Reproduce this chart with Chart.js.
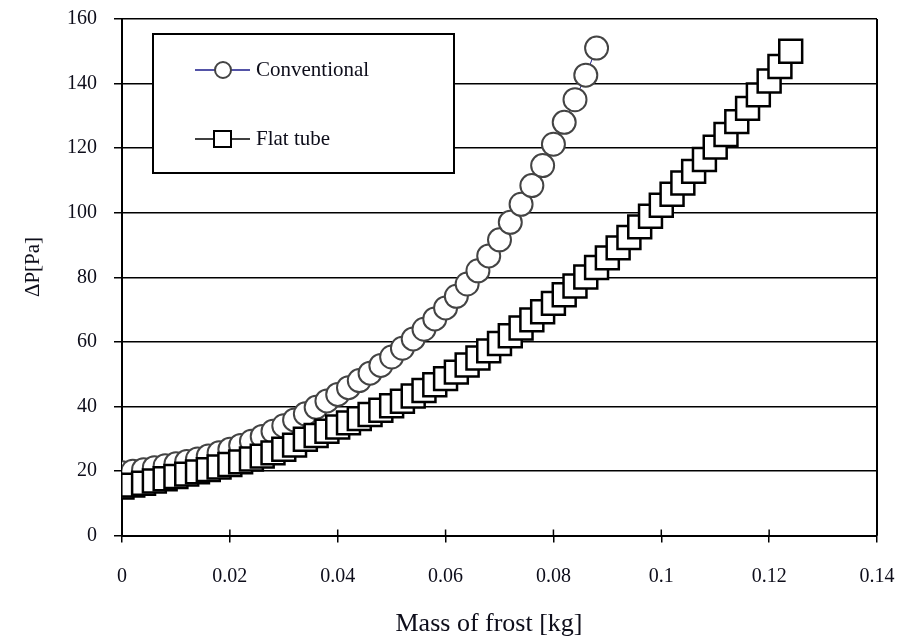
<!DOCTYPE html>
<html>
<head>
<meta charset="utf-8">
<script src="https://cdn.jsdelivr.net/npm/chart.js@4.4.0/dist/chart.umd.min.js"></script>
<style>
  html, body { margin: 0; padding: 0; background: #fff; }
</style>
</head>
<body>
<canvas id="chart" width="907" height="639"></canvas>
<script>
// mass of frost [kg], one sample every 0.002 kg
const massFrost = [0, 0.002, 0.004, 0.006, 0.008, 0.010, 0.012, 0.014, 0.016, 0.018,
  0.020, 0.022, 0.024, 0.026, 0.028, 0.030, 0.032, 0.034, 0.036, 0.038,
  0.040, 0.042, 0.044, 0.046, 0.048, 0.050, 0.052, 0.054, 0.056, 0.058,
  0.060, 0.062, 0.064, 0.066, 0.068, 0.070, 0.072, 0.074, 0.076, 0.078,
  0.080, 0.082, 0.084, 0.086, 0.088, 0.090, 0.092, 0.094, 0.096, 0.098,
  0.100, 0.102, 0.104, 0.106, 0.108, 0.110, 0.112, 0.114, 0.116, 0.118,
  0.120, 0.122, 0.124];

// pressure drop [Pa]
const conventional = [19.4, 19.9, 20.4, 21.0, 21.6, 22.2, 22.9, 23.7, 24.6, 25.6,
  26.7, 27.9, 29.2, 30.7, 32.3, 34.0, 35.8, 37.7, 39.7, 41.7,
  43.7, 45.8, 48.0, 50.3, 52.7, 55.3, 58.0, 60.9, 63.9, 67.1,
  70.5, 74.1, 77.9, 82.0, 86.6, 91.6, 97.0, 102.6, 108.4, 114.6,
  121.2, 128.0, 135.0, 142.6, 151.0];

const flatTube = [15.0, 15.6, 16.2, 16.9, 17.6, 18.3, 19.0, 19.7, 20.4, 21.2,
  22.0, 22.8, 23.7, 24.6, 25.6, 26.7, 28.0, 29.8, 31.0, 32.3,
  33.6, 34.9, 36.2, 37.5, 38.8, 40.2, 41.6, 43.2, 44.9, 46.7,
  48.6, 50.6, 52.8, 55.0, 57.2, 59.5, 61.9, 64.3, 66.8, 69.3,
  71.9, 74.6, 77.3, 80.1, 83.0, 86.0, 89.1, 92.3, 95.6, 98.9,
  102.3, 105.7, 109.2, 112.8, 116.5, 120.3, 124.2, 128.2, 132.3, 136.5,
  140.8, 145.3, 150.0];

const xTicks = [0, 0.02, 0.04, 0.06, 0.08, 0.1, 0.12, 0.14];
const yTicks = [0, 20, 40, 60, 80, 100, 120, 140, 160];

const seriesNames = ['Conventional', 'Flat tube'];
const xTitle = 'Mass of frost [kg]';
const yTitle = 'ΔP[Pa]';

const FONT = "'Liberation Serif', 'Times New Roman', serif";
const INK = '#0d0d1a';

const frame = {
  id: 'frame',
  afterDraw(chart) {
    const {ctx, chartArea: a, scales: {x}} = chart;
    ctx.save();
    ctx.strokeStyle = '#000';
    ctx.lineWidth = 2;
    ctx.beginPath();
    ctx.moveTo(a.right, a.top);
    ctx.lineTo(a.right, a.bottom);
    ctx.stroke();
    // x ticks cross the axis line
    ctx.lineWidth = 1.5;
    xTicks.forEach(v => {
      const px = x.getPixelForValue(v);
      ctx.beginPath();
      ctx.moveTo(px, a.bottom - 6);
      ctx.lineTo(px, a.bottom);
      ctx.stroke();
    });
    // axis titles
    ctx.fillStyle = INK;
    ctx.textAlign = 'center';
    ctx.textBaseline = 'middle';
    ctx.font = '26px ' + FONT;
    ctx.fillText(xTitle, 489, 624);
    ctx.font = '21px ' + FONT;
    ctx.translate(33, 267);
    ctx.rotate(-Math.PI / 2);
    ctx.fillText(yTitle, 0, 0);
    ctx.restore();
  }
};

const legendBox = {
  id: 'legendBox',
  afterDraw(chart) {
    const ctx = chart.ctx;
    ctx.save();
    ctx.fillStyle = '#fff';
    ctx.fillRect(153, 34, 301, 139);
    ctx.strokeStyle = '#000';
    ctx.lineWidth = 2;
    ctx.strokeRect(153, 34, 301, 139);

    const rows = [70, 139];
    ctx.font = '21px ' + FONT;
    ctx.textBaseline = 'middle';
    ctx.textAlign = 'left';
    rows.forEach((y, i) => {
      ctx.strokeStyle = i === 0 ? '#1a1a8a' : '#000';
      ctx.lineWidth = 1.5;
      ctx.beginPath();
      ctx.moveTo(195, y);
      ctx.lineTo(250, y);
      ctx.stroke();
      ctx.fillStyle = '#fff';
      if (i === 0) {
        ctx.strokeStyle = '#444';
        ctx.lineWidth = 2;
        ctx.beginPath();
        ctx.arc(223, y, 8, 0, Math.PI * 2);
        ctx.fill();
        ctx.stroke();
      } else {
        ctx.strokeStyle = '#000';
        ctx.lineWidth = 2;
        ctx.fillRect(214, y - 8, 17, 16);
        ctx.strokeRect(214, y - 8, 17, 16);
      }
      ctx.fillStyle = INK;
      ctx.fillText(seriesNames[i], 256, y);
    });
    ctx.restore();
  }
};

const toPoints = ys => ys.map((v, i) => ({x: massFrost[i], y: v}));

new Chart(document.getElementById('chart'), {
  type: 'line',
  data: {
    datasets: [{
      label: seriesNames[0],
      data: toPoints(conventional),
      order: 1,
      borderColor: '#1a1a8a',
      borderWidth: 1,
      pointStyle: 'circle',
      pointRadius: 11.5,
      pointBorderWidth: 2,
      pointBorderColor: '#444',
      pointBackgroundColor: '#fff'
    }, {
      label: seriesNames[1],
      data: toPoints(flatTube),
      order: 0,
      borderColor: '#000',
      borderWidth: 1,
      pointStyle: 'rect',
      pointRadius: 16.2,
      pointBorderWidth: 2.5,
      pointBorderColor: '#000',
      pointBackgroundColor: '#fff'
    }]
  },
  options: {
    responsive: false,
    animation: false,
    devicePixelRatio: 1,
    layout: {padding: {top: 19, right: 30, bottom: 0, left: 0}},
    plugins: {legend: {display: false}, tooltip: {enabled: false}},
    scales: {
      x: {
        type: 'linear',
        min: 0,
        max: 0.14,
        afterBuildTicks: s => { s.ticks = xTicks.map(v => ({value: v})); },
        afterFit: s => {
          s.height = 103.5;
          s.paddingLeft = 0;
          s.paddingRight = 0;
        },
        grid: {drawOnChartArea: false, color: '#000', lineWidth: 1.5, tickLength: 7},
        border: {color: '#000', width: 2},
        ticks: {
          padding: 22,
          maxRotation: 0,
          color: INK,
          font: {family: FONT, size: 20},
          callback: v => String(Number(v.toFixed(2)))
        }
      },
      y: {
        min: 0,
        max: 160,
        afterBuildTicks: s => { s.ticks = yTicks.map(v => ({value: v})); },
        afterFit: s => {
          s.width = 122;
          s.paddingTop = 0;
          s.paddingBottom = 0;
        },
        grid: {color: '#000', lineWidth: 1.5, tickLength: 8},
        border: {color: '#000', width: 2},
        ticks: {
          padding: 17,
          color: INK,
          font: {family: FONT, size: 20}
        }
      }
    }
  },
  plugins: [frame, legendBox]
});
</script>
</body>
</html>
